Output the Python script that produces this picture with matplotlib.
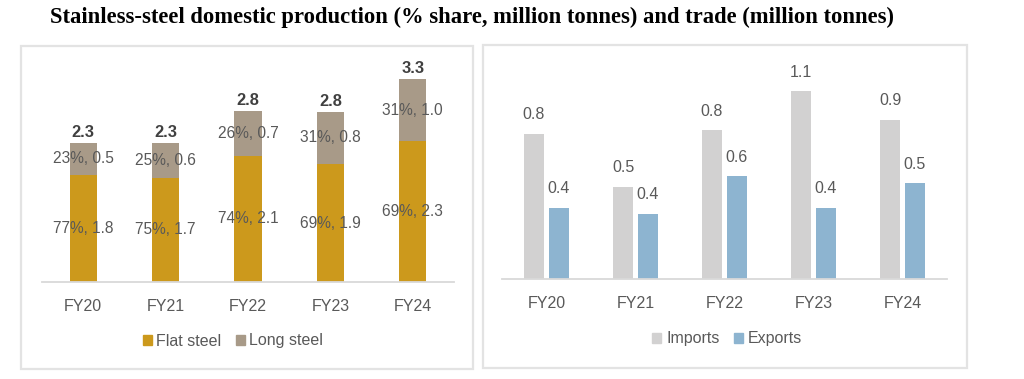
import matplotlib
matplotlib.use("Agg")
import matplotlib.pyplot as plt
from matplotlib.patches import Rectangle, Patch
import numpy as np

# ---------------- data ----------------
years = ["FY20", "FY21", "FY22", "FY23", "FY24"]
flat_steel = [1.75, 1.70, 2.06, 1.92, 2.30]
long_steel = [0.52, 0.57, 0.73, 0.86, 1.01]
flat_labels = ["77%, 1.8", "75%, 1.7", "74%, 2.1", "69%, 1.9", "69%, 2.3"]
long_labels = ["23%, 0.5", "25%, 0.6", "26%, 0.7", "31%, 0.8", "31%, 1.0"]
total_labels = ["2.3", "2.3", "2.8", "2.8", "3.3"]

imports = [0.82, 0.52, 0.84, 1.06, 0.90]
exports = [0.40, 0.37, 0.58, 0.40, 0.54]
import_labels = ["0.8", "0.5", "0.8", "1.1", "0.9"]
export_labels = ["0.4", "0.4", "0.6", "0.4", "0.5"]

title = "Stainless-steel domestic production (% share, million tonnes) and trade (million tonnes)"

# ---------------- style ----------------
W, H = 1024, 379
DPI = 100
TXT = "#595959"
C_FLAT = "#CC991C"
C_LONG = "#A89A88"
C_IMP = "#D2D1D1"
C_EXP = "#8DB4D0"
AXC = "#D9D9D9"
SANS = ["Liberation Sans", "DejaVu Sans"]
plt.rcParams["font.family"] = SANS

fig = plt.figure(figsize=(W / DPI, H / DPI), dpi=DPI)


def fx(px):
    return px / W


def fy(py):
    return 1 - py / H


# panel frames
for (x0, y0, x1, y1) in [(21, 46, 473, 369), (483, 45, 967, 368)]:
    fig.patches.append(Rectangle((fx(x0), fy(y1)), fx(x1 - x0), (y1 - y0) / H,
                                 transform=fig.transFigure, fill=False,
                                 edgecolor="#E3E3E3", linewidth=1.6, zorder=0))

fig.text(fx(50), fy(17), title, family=["Liberation Serif", "DejaVu Serif"],
         fontweight="bold", fontsize=16.3, ha="left", va="center", color="black")


def style_axes(ax):
    for s in ["left", "right", "top"]:
        ax.spines[s].set_visible(False)
    ax.spines["bottom"].set_color(AXC)
    ax.spines["bottom"].set_linewidth(1.3)
    ax.set_yticks([])
    ax.tick_params(axis="x", length=0, pad=12, labelsize=11.5, labelcolor=TXT)
    ax.set_xlim(-0.5, 4.5)
    ax.patch.set_alpha(0)


# ---------------- left panel ----------------
axL = fig.add_axes([fx(42), fy(282), fx(454 - 42), (282 - 60) / H])
x = np.arange(len(years))
bw = 0.33
axL.bar(x, flat_steel, bw, color=C_FLAT, label="Flat steel")
axL.bar(x, long_steel, bw, bottom=flat_steel, color=C_LONG, label="Long steel")
axL.set_ylim(0, 222 / 61.3)
style_axes(axL)
axL.set_xticks(x)
axL.set_xticklabels(years)
for i in range(len(years)):
    axL.text(x[i], flat_steel[i] / 2, flat_labels[i], ha="center", va="center",
             fontsize=11.2, color=TXT)
    axL.text(x[i], flat_steel[i] + long_steel[i] / 2, long_labels[i], ha="center",
             va="center", fontsize=11.2, color=TXT)
    axL.annotate(total_labels[i], (x[i], flat_steel[i] + long_steel[i]),
                 xytext=(0, 2), textcoords="offset points", ha="center", va="bottom",
                 fontsize=11.8, fontweight="bold", color="#404040")

axL.legend(handles=[Patch(color=C_FLAT, label="Flat steel"),
                    Patch(color=C_LONG, label="Long steel")],
           loc="center", bbox_to_anchor=(fx(233), fy(341)), bbox_transform=fig.transFigure,
           ncol=2, frameon=False, fontsize=11.5, labelcolor=TXT,
           handlelength=0.55, handleheight=0.55, handletextpad=0.3, columnspacing=0.9,
           borderpad=0, borderaxespad=0)

# ---------------- right panel ----------------
axR = fig.add_axes([fx(502), fy(279), fx(947 - 502), (279 - 60) / H])
bw2 = 0.225
off = 0.14
axR.bar(x - off, imports, bw2, color=C_IMP, label="Imports")
axR.bar(x + off, exports, bw2, color=C_EXP, label="Exports")
axR.set_ylim(0, 219 / 177)
style_axes(axR)
axR.set_xticks(x)
axR.set_xticklabels(years)
for i in range(len(years)):
    axR.annotate(import_labels[i], (x[i] - off, imports[i]), xytext=(0, 8.5),
                 textcoords="offset points", ha="center", va="bottom",
                 fontsize=11.5, color=TXT)
    axR.annotate(export_labels[i], (x[i] + off, exports[i]), xytext=(0, 8.5),
                 textcoords="offset points", ha="center", va="bottom",
                 fontsize=11.5, color=TXT)

axR.legend(handles=[Patch(color=C_IMP, label="Imports"),
                    Patch(color=C_EXP, label="Exports")],
           loc="center", bbox_to_anchor=(fx(727), fy(339)), bbox_transform=fig.transFigure,
           ncol=2, frameon=False, fontsize=11.5, labelcolor=TXT,
           handlelength=0.55, handleheight=0.55, handletextpad=0.3, columnspacing=0.9,
           borderpad=0, borderaxespad=0)

fig.savefig("out.png", dpi=DPI)
